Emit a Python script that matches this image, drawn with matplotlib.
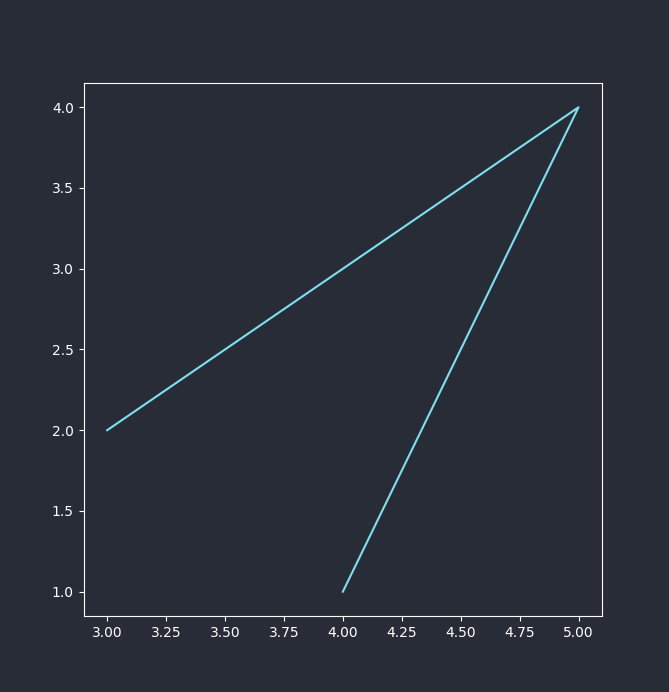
import matplotlib
matplotlib.use("Agg")
import matplotlib.pyplot as plt

x = [3, 5, 4]
y = [2, 4, 1]

BG = "#282c37"
FG = "#ffffff"
LINE = "#7fdff0"

plt.rcParams.update({
    "figure.facecolor": BG,
    "axes.facecolor": BG,
    "axes.edgecolor": FG,
    "xtick.color": FG,
    "ytick.color": FG,
    "text.color": FG,
})

fig, ax = plt.subplots(figsize=(6.69, 6.92), dpi=100)
ax.plot(x, y, color=LINE, lw=1.5)
fig.savefig("out.png", dpi=100, facecolor=BG)
